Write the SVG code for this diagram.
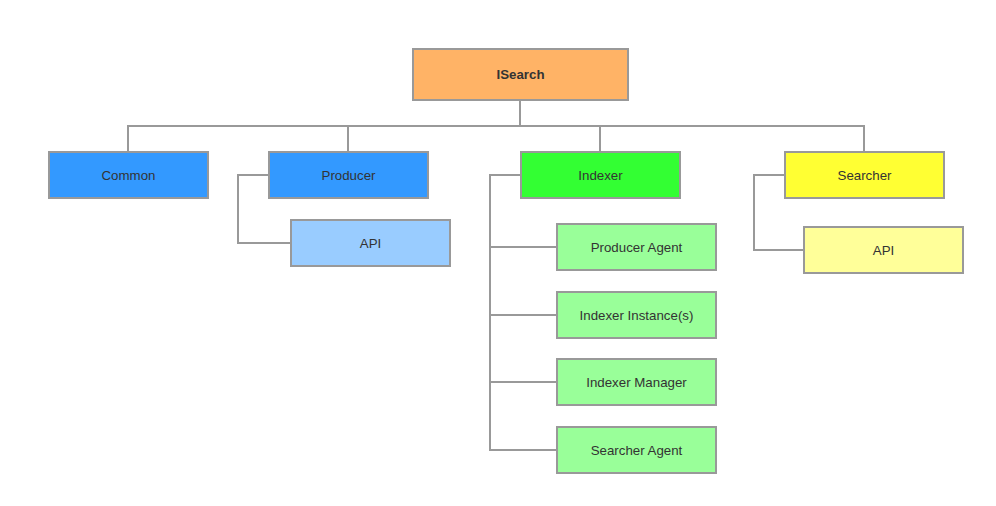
<svg xmlns="http://www.w3.org/2000/svg" width="996" height="506" viewBox="0 0 996 506">
<style>
.n rect{stroke:#999;stroke-width:2}
.n text{font-family:"Liberation Sans",Arial,sans-serif;font-size:13.3px;fill:#333;text-anchor:middle;dominant-baseline:central}
.c path{fill:none;stroke:#999;stroke-width:2}
</style>
<rect width="996" height="506" fill="#fff"/>
<g class="c" id="connectors">
<path d="M520,101 V126 M128,151 V126 H864 V151 M348,126 V151 M600,126 V151"/>
<path d="M268,175 H238 V243 H290"/>
<path d="M520,175 H490 V450 H556 M490,247 H556 M490,315 H556 M490,382 H556"/>
<path d="M784,175 H754 V250 H803"/>
</g>
<g class="n" id="isearch"><rect x="413" y="49" width="215" height="51" fill="#FFB366"/><text x="520.5" y="74.5" font-weight="bold">ISearch</text></g>
<g class="n" id="common"><rect x="49" y="152" width="159" height="46" fill="#3399FF"/><text x="128.5" y="175">Common</text></g>
<g class="n" id="producer"><rect x="269" y="152" width="159" height="46" fill="#3399FF"/><text x="348.5" y="175">Producer</text></g>
<g class="n" id="producer-api"><rect x="291" y="220" width="159" height="46" fill="#99CCFF"/><text x="370.5" y="243">API</text></g>
<g class="n" id="indexer"><rect x="521" y="152" width="159" height="46" fill="#33FF33"/><text x="600.5" y="175">Indexer</text></g>
<g class="n" id="producer-agent"><rect x="557" y="224" width="159" height="46" fill="#99FF99"/><text x="636.5" y="247">Producer Agent</text></g>
<g class="n" id="indexer-instances"><rect x="557" y="292" width="159" height="46" fill="#99FF99"/><text x="636.5" y="315">Indexer Instance(s)</text></g>
<g class="n" id="indexer-manager"><rect x="557" y="359" width="159" height="46" fill="#99FF99"/><text x="636.5" y="382">Indexer Manager</text></g>
<g class="n" id="searcher-agent"><rect x="557" y="427" width="159" height="46" fill="#99FF99"/><text x="636.5" y="450">Searcher Agent</text></g>
<g class="n" id="searcher"><rect x="785" y="152" width="159" height="46" fill="#FFFF33"/><text x="864.5" y="175">Searcher</text></g>
<g class="n" id="searcher-api"><rect x="804" y="227" width="159" height="46" fill="#FFFF99"/><text x="883.5" y="250">API</text></g>
</svg>
